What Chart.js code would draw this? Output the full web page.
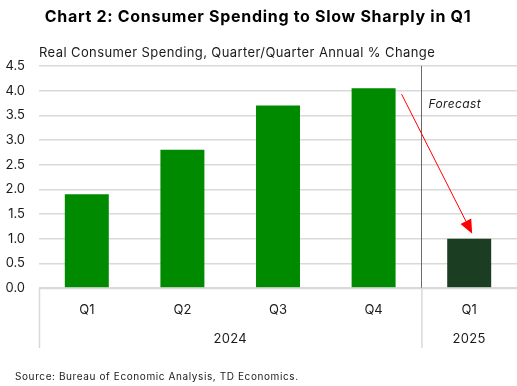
<!DOCTYPE html>
<html>
<head>
<meta charset="utf-8">
<script src="https://cdn.jsdelivr.net/npm/chart.js@4/dist/chart.umd.min.js"></script>
<style>
  html, body { margin: 0; padding: 0; background: #fff; }
  #wrap { width: 517px; height: 386px; position: relative; }
</style>
</head>
<body>
<div id="wrap"><canvas id="c" width="517" height="386"></canvas></div>
<script>
const quarters = ["Q1", "Q2", "Q3", "Q4", "Q1"];
const years = ["2024", "2025"];
const yearSpans = [4, 1];
const spending = [1.9, 2.8, 3.7, 4.05, 1.0];
const barColors = ["#008a00", "#008a00", "#008a00", "#008a00", "#1b3d22"];
const yTicks = [0, 0.5, 1, 1.5, 2, 2.5, 3, 3.5, 4, 4.5];
const titleText = "Chart 2: Consumer Spending to Slow Sharply in Q1";
const subtitleText = "Real Consumer Spending, Quarter/Quarter Annual % Change";
const sourceText = "Source: Bureau of Economic Analysis, TD Economics.";
const forecastText = "Forecast";

const FONT = "Inter, 'Open Sans', sans-serif";

const decor = {
  id: "decor",
  beforeDatasetsDraw(chart) {
    const ctx = chart.ctx, a = chart.chartArea, x = chart.scales.x;
    const sepX = (x.getPixelForValue(3) + x.getPixelForValue(4)) / 2;
    ctx.save();
    ctx.strokeStyle = "#6b6b6b";
    ctx.lineWidth = 1;
    ctx.beginPath();
    ctx.moveTo(Math.round(sepX) + 0.5, a.top);
    ctx.lineTo(Math.round(sepX) + 0.5, a.bottom);
    ctx.stroke();
    ctx.restore();
  },
  afterDraw(chart) {
    const ctx = chart.ctx, a = chart.chartArea, x = chart.scales.x, y = chart.scales.y;
    ctx.save();
    ctx.fillStyle = "#000";
    ctx.textBaseline = "middle";
    ctx.textAlign = "center";
    ctx.font = "bold 16px " + FONT;
    ctx.letterSpacing = "0.7px";
    ctx.fillText(titleText, 258, 17);
    ctx.textAlign = "left";
    ctx.font = "13px " + FONT;
    ctx.letterSpacing = "0.4px";
    ctx.fillStyle = "#1a1a1a";
    ctx.fillText(subtitleText, 39, 53);
    ctx.font = "10px " + FONT;
    ctx.letterSpacing = "0.6px";
    ctx.fillText(sourceText, 15, 377);
    ctx.letterSpacing = "0.3px";

    const half = (x.getPixelForValue(1) - x.getPixelForValue(0)) / 2;
    const bottom = 348;
    ctx.strokeStyle = "#d9d9d9";
    ctx.lineWidth = 1.5;
    let idx = 0;
    const bounds = [];
    for (let g = 0; g < years.length; g++) {
      const left = x.getPixelForValue(idx) - half;
      const right = x.getPixelForValue(idx + yearSpans[g] - 1) + half;
      bounds.push(left);
      ctx.fillStyle = "#1a1a1a";
      ctx.textAlign = "center";
      ctx.font = "13px " + FONT;
      ctx.fillText(years[g], (left + right) / 2, 339);
      idx += yearSpans[g];
    }
    bounds.forEach(bx => {
      ctx.beginPath();
      ctx.moveTo(bx + 0.5, a.bottom);
      ctx.lineTo(bx + 0.5, bottom);
      ctx.stroke();
    });
    ctx.beginPath();
    ctx.moveTo(a.left, a.bottom + 0.5);
    ctx.lineTo(a.right, a.bottom + 0.5);
    ctx.stroke();

    const sepX = (x.getPixelForValue(3) + x.getPixelForValue(4)) / 2;
    ctx.font = "italic 12px " + FONT;
    ctx.letterSpacing = "0.4px";
    ctx.fillStyle = "#1a1a1a";
    ctx.textAlign = "left";
    ctx.fillText(forecastText, sepX + 7, 104);

    const x0 = x.getPixelForValue(3) + 28, y0 = y.getPixelForValue(spending[3]) + 6;
    const x1 = x.getPixelForValue(4) + 3, y1 = y.getPixelForValue(spending[4]) - 5;
    const ang = Math.atan2(y1 - y0, x1 - x0);
    const hl = 14, hw = 6;
    const bx = x1 - hl * Math.cos(ang), by = y1 - hl * Math.sin(ang);
    ctx.strokeStyle = "#ff0000";
    ctx.fillStyle = "#ff0000";
    ctx.lineWidth = 1;
    ctx.beginPath();
    ctx.moveTo(x0, y0);
    ctx.lineTo(bx, by);
    ctx.stroke();
    ctx.beginPath();
    ctx.moveTo(x1, y1);
    ctx.lineTo(bx + hw * Math.sin(ang), by - hw * Math.cos(ang));
    ctx.lineTo(bx - hw * Math.sin(ang), by + hw * Math.cos(ang));
    ctx.closePath();
    ctx.fill();
    ctx.restore();
  }
};

new Chart(document.getElementById("c"), {
  type: "bar",
  data: {
    labels: quarters,
    datasets: [{
      data: spending,
      backgroundColor: barColors,
      borderWidth: 0,
      categoryPercentage: 1,
      barPercentage: 0.46
    }]
  },
  options: {
    responsive: false,
    animation: false,
    devicePixelRatio: 1,
    layout: { padding: { top: 66, bottom: 38, left: 0, right: 0 } },
    plugins: { legend: { display: false }, tooltip: { enabled: false }, title: { display: false } },
    scales: {
      x: {
        grid: { display: false, drawTicks: false },
        border: { display: false },
        ticks: { color: "#1a1a1a", font: { family: FONT, size: 13 }, padding: 14, maxRotation: 0 },
        afterFit(s) { s.height = 60; }
      },
      y: {
        min: 0, max: 4.5,
        afterBuildTicks(s) { s.ticks = yTicks.map(v => ({ value: v })); },
        grid: { color: "#d9d9d9", lineWidth: 1.5, drawTicks: false },
        border: { display: false },
        ticks: {
          color: "#1a1a1a", font: { family: FONT, size: 13 }, padding: 14,
          callback: v => Number(v).toFixed(1)
        },
        afterFit(s) { s.width = 39; }
      }
    }
  },
  plugins: [decor]
});
</script>
</body>
</html>
